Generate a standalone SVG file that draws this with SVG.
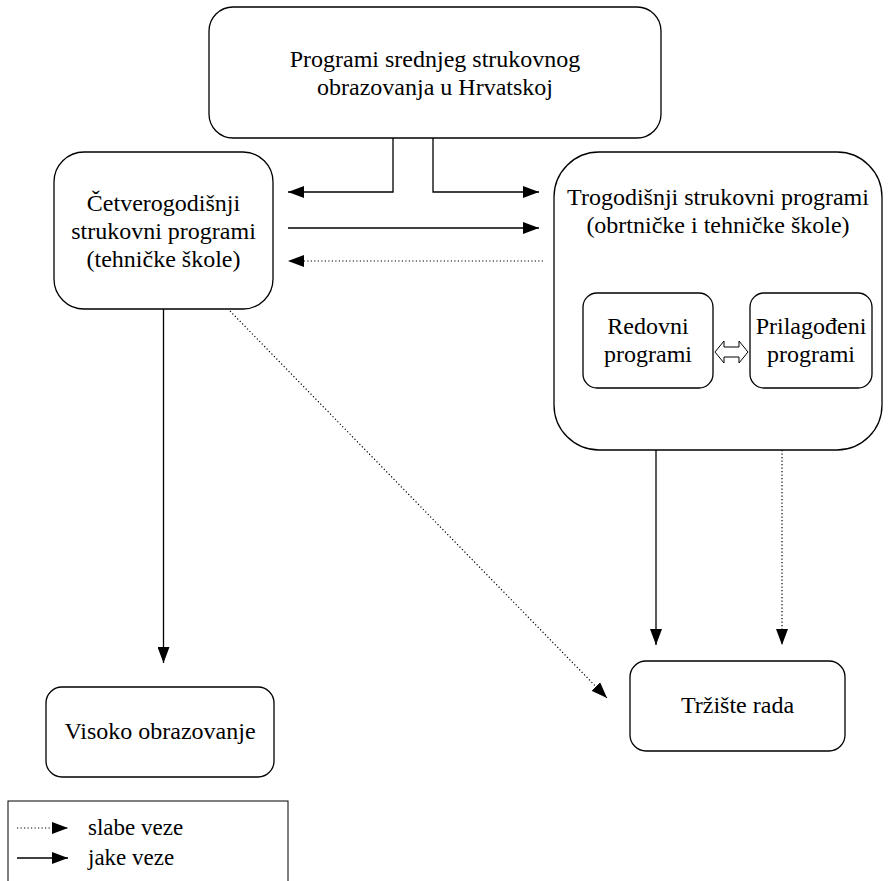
<svg xmlns="http://www.w3.org/2000/svg" width="894" height="881" viewBox="0 0 894 881">
<defs>
<style>
.box{fill:#fff;stroke:#000;stroke-width:1.3}
.t{font-family:"Liberation Serif","Times New Roman",serif;font-size:24px;fill:#000;text-anchor:middle}
.lg{font-family:"Liberation Serif","Times New Roman",serif;font-size:23px;fill:#000}
.solid{fill:none;stroke:#000;stroke-width:1.3}
.dot{fill:none;stroke:#000;stroke-width:1.2;stroke-dasharray:1.2 2.3}
</style>
<marker id="ah" markerUnits="userSpaceOnUse" markerWidth="16" markerHeight="12" refX="16" refY="6" orient="auto">
<path d="M0,0 L16,6 L0,12 z" fill="#000"/>
</marker>
</defs>
<rect width="894" height="881" fill="#fff"/>

<g id="n-top">
<rect class="box" x="209" y="7" width="452" height="131" rx="24"/>
<text class="t" x="435" y="67">Programi srednjeg strukovnog</text>
<text class="t" x="435" y="95">obrazovanja u Hrvatskoj</text>
</g>

<g id="n-cetvero">
<rect class="box" x="54" y="152" width="219" height="157" rx="30"/>
<text class="t" x="163.5" y="211">Četverogodišnji</text>
<text class="t" x="163.5" y="239">strukovni programi</text>
<text class="t" x="163.5" y="267">(tehničke škole)</text>
</g>

<g id="n-trogod">
<rect class="box" x="554" y="152" width="328" height="298" rx="45"/>
<text class="t" x="718" y="205">Trogodišnji strukovni programi</text>
<text class="t" x="718" y="233">(obrtničke i tehničke škole)</text>
</g>

<g id="n-redovni">
<rect class="box" x="583" y="293" width="130" height="95" rx="14"/>
<text class="t" x="648" y="334">Redovni</text>
<text class="t" x="648" y="362">programi</text>
</g>

<g id="n-prilag">
<rect class="box" x="750" y="293" width="122" height="95" rx="14"/>
<text class="t" x="811" y="334">Prilagođeni</text>
<text class="t" x="811" y="362">programi</text>
</g>

<g id="n-visoko">
<rect class="box" x="46" y="687" width="228" height="90" rx="16"/>
<text class="t" x="160" y="739">Visoko obrazovanje</text>
</g>

<g id="n-trziste">
<rect class="box" x="630" y="661" width="215" height="90" rx="16"/>
<text class="t" x="737.5" y="713">Tržište rada</text>
</g>

<g id="connectors">
<polyline class="solid" points="393,138 393,192 288,192" marker-end="url(#ah)"/>
<polyline class="solid" points="433,138 433,192 539,192" marker-end="url(#ah)"/>
<line class="solid" x1="288" y1="228" x2="539" y2="228" marker-end="url(#ah)"/>
<line class="dot" x1="543" y1="261" x2="288" y2="261" marker-end="url(#ah)"/>
<line class="solid" x1="163.5" y1="309" x2="163.5" y2="663" marker-end="url(#ah)"/>
<line class="dot" x1="230" y1="311" x2="607" y2="698" marker-end="url(#ah)"/>
<line class="solid" x1="656" y1="450" x2="656" y2="645" marker-end="url(#ah)"/>
<line class="dot" x1="782" y1="450" x2="782" y2="645" marker-end="url(#ah)"/>
<polygon points="715,352 724,341 724,347 739,347 739,341 748,352 739,363 739,357 724,357 724,363" fill="#fff" stroke="#000" stroke-width="1"/>
</g>

<g id="legend">
<rect x="8" y="801" width="280" height="100" fill="none" stroke="#000" stroke-width="1"/>
<line class="dot" x1="17" y1="828" x2="68" y2="828" marker-end="url(#ah)"/>
<text class="lg" x="88" y="835">slabe veze</text>
<line class="solid" x1="17" y1="858" x2="68" y2="858" marker-end="url(#ah)"/>
<text class="lg" x="88" y="865">jake veze</text>
</g>
</svg>
